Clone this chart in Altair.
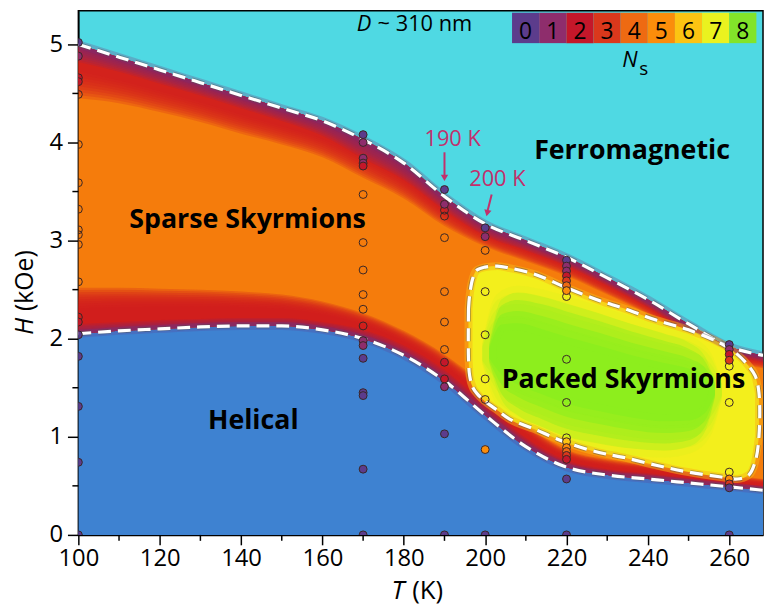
import altair as alt
import pandas as pd

# ---------------- values ----------------
# phase boundaries (T in K, H in kOe)
T_B = [100, 110, 120, 130, 140, 150, 160, 170, 180, 190, 200, 210, 220, 230, 240, 250, 260, 268.3]
H_FERRO = [5.00, 4.87, 4.74, 4.61, 4.48, 4.35, 4.22, 4.03, 3.79, 3.45, 3.17, 3.00, 2.83, 2.62, 2.40, 2.15, 1.92, 1.83]
H_RED_TOP = [4.45, 4.40, 4.31, 4.21, 4.09, 3.98, 3.85, 3.64, 3.43, 3.15, 2.94, 2.79, 2.64, 2.45, 2.25, 2.00, 1.78, 1.70]
H_PUR_TOP = [4.82, 4.72, 4.60, 4.48, 4.35, 4.22, 4.07, 3.84, 3.62, 3.31, 3.05, 2.90, 2.74, 2.54, 2.32, 2.07, 1.85, 1.76]
H_HELIX = [2.05, 2.08, 2.10, 2.12, 2.13, 2.13, 2.09, 2.00, 1.83, 1.57, 1.22, 0.90, 0.69, 0.61, 0.57, 0.53, 0.49, 0.455]
H_RED_BOT = [2.52, 2.52, 2.51, 2.50, 2.48, 2.45, 2.38, 2.26, 2.08, 1.84, 1.52, 1.13, 0.87, 0.77, 0.72, 0.67, 0.61, 0.57]
H_PUR_BOT = [2.15, 2.17, 2.19, 2.20, 2.21, 2.21, 2.17, 2.09, 1.93, 1.68, 1.33, 0.99, 0.76, 0.67, 0.63, 0.58, 0.54, 0.50]

# packed skyrmion pocket
PK_T = [195.9, 196.2, 197.0, 198.0, 200.0, 203.0, 206.0, 212.0, 220.0, 228.0, 234.0, 242.0, 250.0, 258.0, 262.0, 264.8, 266.4, 267.3]
PK_LO = [1.80, 1.62, 1.50, 1.44, 1.36, 1.27, 1.18, 1.08, 0.94, 0.84, 0.79, 0.71, 0.64, 0.59, 0.57, 0.61, 0.75, 1.00]
PK_HI = [2.30, 2.45, 2.62, 2.70, 2.73, 2.74, 2.72, 2.66, 2.52, 2.39, 2.31, 2.19, 2.09, 1.95, 1.84, 1.72, 1.62, 1.45]

# green core of the pocket (N_s ~ 8)
CORE_T = [201.0, 204, 208, 214, 220, 228, 236, 244, 250, 254, 256.5]
CORE_LO = [1.75, 1.38, 1.22, 1.10, 1.00, 0.93, 0.88, 0.86, 0.90, 1.05, 1.40]
CORE_HI = [1.95, 2.40, 2.47, 2.43, 2.36, 2.26, 2.15, 2.05, 1.96, 1.82, 1.55]

# measured points: H values and N_s (None = open circle)
H_100 = [5.02, 4.88, 4.66, 4.62, 4.49, 3.98, 3.59, 3.32, 3.11, 3.06, 2.96, 2.58, 2.22, 2.17, 2.04, 1.82, 1.31, 0.74, 0.0]
N_100 = [0, 1, 2, 2, None, None, None, None, None, None, None, None, None, 2, 0, 0, 0, 0, 0]
H_170 = [4.08, 4.00, 3.84, 3.79, 3.76, 3.47, 2.98, 2.70, 2.45, 2.30, 2.13, 1.98, 1.93, 1.80, 1.45, 1.42, 0.67, 0.0]
N_170 = [0, 1, 1, 1, 2, None, None, None, None, None, None, 1, 1, 0, 0, 0, 0, 0]
H_190 = [3.52, 3.37, 3.31, 3.25, 3.03, 2.48, 2.17, 1.89, 1.76, 1.59, 1.51, 1.03, 0.0]
N_190 = [0, 1, None, None, None, None, None, None, 2, 2, 1, 0, 0]
H_200 = [3.13, 3.04, 2.90, 2.48, 2.04, 1.59, 1.38, 0.87, 0.0]
N_200 = [0, 1, None, None, None, None, None, 5, 0]
H_220 = [2.80, 2.74, 2.69, 2.64, 2.59, 2.54, 2.49, 2.43, 1.79, 1.35, 0.99, 0.95, 0.89, 0.85, 0.81, 0.77, 0.57, 0.0]
N_220 = [0, 1, 1, 2, 3, 4, 5, None, None, None, None, 6, 5, 4, 3, 2, 0, 0]
H_260 = [1.94, 1.89, 1.84, 1.78, 1.72, 1.35, 0.64, 0.57, 0.52, 0.48, 0.0]
N_260 = [0, 1, 2, 3, None, None, None, 5, 3, 0, 0]

NS_LEVELS = [0, 1, 2, 3, 4, 5, 6, 7, 8]
NS_COLORS = ["#5c3c8c", "#8e2d6c", "#c4172a", "#da381c", "#ee6a12", "#fb8d0b", "#fcc412", "#eaf21f", "#82e42a"]

X_TICKS = [100, 120, 140, 160, 180, 200, 220, 240, 260]
X_MINOR = [110, 130, 150, 170, 190, 210, 230, 250]
Y_TICKS = [0, 1, 2, 3, 4, 5]
Y_MINOR = [0.5, 1.5, 2.5, 3.5, 4.5]

# ---------------- styles ----------------
CYAN = "#4fd9e3"
BLUE = "#3e82d1"
ORANGE = "#f57c0c"
RED = "#d01b20"
PURPLE = "#7a2c72"
YELLOW = "#f3ef1c"
GREEN = "#8aee1e"
MAG = "#c2306c"
FONT = "Open Sans"
W, HGT = 691, 529

XS = alt.Scale(domain=[100, 268.3], nice=False, zero=False)
YS = alt.Scale(domain=[0, 5.343], nice=False, zero=False)
XAX = alt.Axis(values=X_TICKS, title=None, grid=False, tickSize=10, tickWidth=1.5, tickColor="black",
               domainColor="black", domainWidth=1.5, labelFont=FONT, labelFontSize=24, labelColor="black",
               labelPadding=2, labelFlush=False, labelOverlap=False, format="d")
YAX = alt.Axis(values=Y_TICKS, title=None, grid=False, tickSize=11, tickWidth=1.5, tickColor="black",
               domainColor="black", domainWidth=1.5, labelFont=FONT, labelFontSize=24, labelColor="black",
               labelPadding=5, labelFlush=False, labelOverlap=False, format="d")
NSC = alt.Scale(domain=NS_LEVELS, range=NS_COLORS)


def xe(f="T"):
    return alt.X(f"{f}:Q", scale=XS, axis=XAX)


def ye(f="H"):
    return alt.Y(f"{f}:Q", scale=YS, axis=YAX)


df_b = pd.DataFrame({"T": T_B, "up": H_FERRO, "rt": H_RED_TOP, "pt": H_PUR_TOP,
                     "lo": H_HELIX, "rb": H_RED_BOT, "pb": H_PUR_BOT})
df_b["z"] = 0.0
df_pk = pd.DataFrame({"T": PK_T, "lo": PK_LO, "hi": PK_HI})
df_core = pd.DataFrame({"T": CORE_T, "lo": CORE_LO, "hi": CORE_HI})
loop_T = PK_T + PK_T[::-1] + [PK_T[0]]
loop_H = PK_HI + PK_LO[::-1] + [PK_HI[0]]
df_loop = pd.DataFrame({"T": loop_T, "H": loop_H, "o": list(range(len(loop_T)))})

rows = []
for t, hs, ns in [(100, H_100, N_100), (170, H_170, N_170), (190, H_190, N_190),
                  (200, H_200, N_200), (220, H_220, N_220), (260, H_260, N_260)]:
    for h, n in zip(hs, ns):
        rows.append({"T": t, "H": h, "n": n})
df_pts = pd.DataFrame(rows)
df_fill = df_pts[df_pts["n"].notna()].copy()
df_fill["n"] = df_fill["n"].astype(int)
df_open = df_pts[df_pts["n"].isna()][["T", "H"]]

layers = []
# helical (blue) region
layers.append(alt.Chart(df_b).mark_area(color=BLUE, interpolate="monotone", clip=True)
              .encode(x=xe(), y=ye("z"), y2=alt.Y2("lo")))
# sparse skyrmion (orange) region
layers.append(alt.Chart(df_b).mark_area(color=ORANGE, interpolate="monotone", clip=True)
              .encode(x=xe(), y=ye("lo"), y2=alt.Y2("up")))


def band(edge, inner, color, fracs, op):
    out = []
    for f in fracs:
        out.append(alt.Chart(df_b)
                   .transform_calculate(yb=f"datum.{edge} + (datum.{inner} - datum.{edge}) * {f}")
                   .mark_area(color=color, opacity=op, interpolate="monotone", clip=True)
                   .encode(x=xe(), y=ye("yb"), y2=alt.Y2(edge)))
    return out


def steps(a, b, n):
    return [round(a + (b - a) * i / (n - 1), 4) for i in range(n)]


layers += band("up", "rt", RED, steps(1.0, 0.5, 10), 0.22)
layers += band("up", "pt", PURPLE, steps(1.0, 0.15, 8), 0.17)
layers += band("lo", "rb", RED, steps(1.0, 0.55, 10), 0.26)
layers += band("lo", "pb", PURPLE, steps(1.0, 0.2, 6), 0.17)

# packed pocket
layers.append(alt.Chart(df_pk).mark_area(color=YELLOW, stroke="#f9b616", strokeWidth=8, strokeOpacity=0.5,
                                         interpolate="monotone", clip=True)
              .encode(x=xe(), y=ye("lo"), y2=alt.Y2("hi")))
for f, col, op in [(0.0, "#b8ef1c", 0.5), (0.12, GREEN, 0.45), (0.3, GREEN, 0.6), (0.5, GREEN, 0.8)]:
    layers.append(alt.Chart(df_core)
                  .transform_calculate(a=f"datum.lo + (datum.hi - datum.lo) * {f / 2}",
                                       b=f"datum.hi - (datum.hi - datum.lo) * {f / 2}")
                  .mark_area(color=col, opacity=op, stroke=col, strokeWidth=14, strokeOpacity=0.2,
                             interpolate="monotone", clip=True)
                  .encode(x=xe(), y=ye("a"), y2=alt.Y2("b")))

# boundary halos and dashed lines
for fld, col in [("up", PURPLE), ("lo", "#5e3d92")]:
    layers.append(alt.Chart(df_b).mark_line(color=col, strokeWidth=8, opacity=0.25, interpolate="monotone", clip=True)
                  .encode(x=xe(), y=ye(fld)))
    layers.append(alt.Chart(df_b).mark_line(color="#555555", strokeWidth=5, opacity=0.45, strokeDash=[13, 7],
                                            interpolate="monotone", clip=True)
                  .encode(x=xe(), y=ye(fld)))
    layers.append(alt.Chart(df_b).mark_line(color="white", strokeWidth=3.2, strokeDash=[13, 7],
                                            interpolate="monotone", clip=True)
                  .encode(x=xe(), y=ye(fld)))
layers.append(alt.Chart(df_loop).mark_line(color="#555555", strokeWidth=5, opacity=0.45, strokeDash=[13, 7],
                                           interpolate="catmull-rom", clip=True)
              .encode(x=xe(), y=ye("H"), order="o:Q"))
layers.append(alt.Chart(df_loop).mark_line(color="white", strokeWidth=3.2, strokeDash=[13, 7],
                                           interpolate="catmull-rom", clip=True)
              .encode(x=xe(), y=ye("H"), order="o:Q"))

# measured points
layers.append(alt.Chart(df_open).mark_point(shape="circle", filled=False, stroke="#3a2626", strokeWidth=1,
                                            size=64, opacity=1, clip=True)
              .encode(x=xe(), y=ye("H")))
layers.append(alt.Chart(df_fill).mark_point(shape="circle", filled=True, stroke="#3a2626", strokeWidth=1,
                                            size=64, opacity=1, clip=True)
              .encode(x=xe(), y=ye("H"), fill=alt.Fill("n:O", scale=NSC, legend=None)))

# minor ticks
layers.append(alt.Chart(pd.DataFrame({"T": X_MINOR})).mark_rule(color="black", strokeWidth=1.5)
              .encode(x=xe(), y=alt.value(HGT), y2=alt.value(HGT + 6)))
layers.append(alt.Chart(pd.DataFrame({"H": Y_MINOR})).mark_rule(color="black", strokeWidth=1.5)
              .encode(y=ye(), x=alt.value(0), x2=alt.value(-6)))

# region labels
df_lab = pd.DataFrame({"T": [236.1, 141.6, 234.0, 143.0], "H": [3.83, 3.13, 1.50, 1.08],
                       "txt": ["Ferromagnetic", "Sparse Skyrmions", "Packed Skyrmions", "Helical"]})
layers.append(alt.Chart(df_lab).mark_text(font=FONT, fontSize=27, fontWeight="bold", color="black",
                                          align="center", baseline="alphabetic")
              .encode(x=xe(), y=ye("H"), text="txt:N"))

# temperature annotations
df_k = pd.DataFrame({"T": [192.0, 203.0], "H": [4.04, 3.63], "txt": ["190 K", "200 K"]})
layers.append(alt.Chart(df_k).mark_text(font=FONT, fontSize=22, color=MAG, align="center", baseline="middle")
              .encode(x=xe(), y=ye("H"), text="txt:N"))
df_arr = pd.DataFrame({"T": [190.0, 201.6], "H": [3.90, 3.47], "T2": [190.0, 200.5], "H2": [3.66, 3.29]})
layers.append(alt.Chart(df_arr).mark_rule(color=MAG, strokeWidth=2)
              .encode(x=xe(), y=ye("H"), x2=alt.X2("T2"), y2=alt.Y2("H2")))
df_head = pd.DataFrame({"T": [190.0, 200.5], "H": [3.64, 3.28], "ang": [0.0, 12.5]})
layers.append(alt.Chart(df_head).mark_point(shape="triangle-down", filled=True, color=MAG, size=55, opacity=1)
              .encode(x=xe(), y=ye("H"), angle=alt.Angle("ang:Q", scale=None)))

# D ~ 310 nm
layers.append(alt.Chart(pd.DataFrame({"a": [0]})).mark_text(text="D", font=FONT, fontSize=22, fontStyle="italic",
                                                            color="black", align="left", baseline="alphabetic")
              .encode(x=alt.value(281), y=alt.value(20)))
layers.append(alt.Chart(pd.DataFrame({"a": [0]})).mark_text(text="~ 310 nm", font=FONT, fontSize=22,
                                                            color="black", align="left", baseline="alphabetic")
              .encode(x=alt.value(302), y=alt.value(20)))

# N_s colour key
x0 = 437.7
bw = 27.4
df_leg = pd.DataFrame({"n": NS_LEVELS,
                       "x0": [x0 + bw * i for i in range(9)],
                       "x1": [x0 + bw * (i + 1) for i in range(9)],
                       "xc": [x0 + bw * (i + 0.5) for i in range(9)],
                       "y0": [2.0] * 9, "y1": [32.7] * 9, "yt": [28.5] * 9,
                       "lab": [str(v) for v in NS_LEVELS]})
layers.append(alt.Chart(df_leg).mark_rect()
              .encode(x=alt.X("x0:Q", scale=None, axis=None), x2="x1", y=alt.Y("y0:Q", scale=None, axis=None),
                      y2="y1", fill=alt.Fill("n:O", scale=NSC, legend=None)))
layers.append(alt.Chart(df_leg).mark_text(font=FONT, fontSize=23, color="black", align="center",
                                          baseline="alphabetic")
              .encode(x=alt.X("xc:Q", scale=None, axis=None), y=alt.Y("yt:Q", scale=None, axis=None),
                      text="lab:N"))
layers.append(alt.Chart(pd.DataFrame({"a": [0]})).mark_text(text="N", font=FONT, fontSize=22, fontStyle="italic",
                                                            color="black", align="left", baseline="alphabetic")
              .encode(x=alt.value(549), y=alt.value(57)))
layers.append(alt.Chart(pd.DataFrame({"a": [0]})).mark_text(text="s", font=FONT, fontSize=19,
                                                            color="black", align="left", baseline="alphabetic")
              .encode(x=alt.value(566), y=alt.value(65)))

# axis titles (italic symbol + units)
layers.append(alt.Chart(pd.DataFrame({"a": [0]})).mark_text(text="T", font=FONT, fontSize=26, fontStyle="italic",
                                                            color="black", align="left", baseline="alphabetic")
              .encode(x=alt.value(316), y=alt.value(594)))
layers.append(alt.Chart(pd.DataFrame({"a": [0]})).mark_text(text="(K)", font=FONT, fontSize=26,
                                                            color="black", align="left", baseline="alphabetic")
              .encode(x=alt.value(337), y=alt.value(594)))
layers.append(alt.Chart(pd.DataFrame({"a": [0]})).mark_text(text="H", font=FONT, fontSize=25, fontStyle="italic",
                                                            color="black", align="left", baseline="alphabetic",
                                                            angle=270)
              .encode(x=alt.value(-46), y=alt.value(327)))
layers.append(alt.Chart(pd.DataFrame({"a": [0]})).mark_text(text="(kOe)", font=FONT, fontSize=25,
                                                            color="black", align="left", baseline="alphabetic",
                                                            angle=270)
              .encode(x=alt.value(-46), y=alt.value(303)))

chart = (alt.layer(*layers)
         .properties(width=W, height=HGT, autosize=alt.AutoSizeParams(type="none"),
                     padding={"left": 71, "top": 0, "right": 2, "bottom": 70})
         .configure_view(fill=CYAN, stroke="black", strokeWidth=1.5))

chart.save("out.html", embed_options={"renderer": "svg", "actions": False})
